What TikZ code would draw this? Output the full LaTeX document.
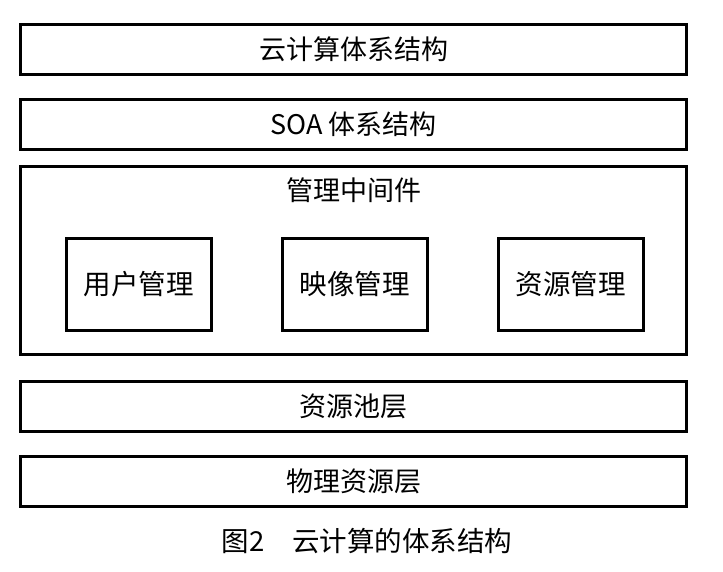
\documentclass[tikz,border=0pt]{standalone}
\usepackage{fontspec}
\setmainfont{Noto Sans CJK SC}
\tikzset{
  layer/.style = {rectangle, draw, line width=3pt, minimum width=666pt, minimum height=50pt,
                  inner sep=0pt, font=\fontsize{27}{30}\selectfont},
  frame/.style = {rectangle, draw, line width=3pt, minimum width=666pt, minimum height=188pt,
                  inner sep=0pt},
  module/.style = {rectangle, draw, line width=3pt, minimum width=145pt, minimum height=92pt,
                   inner sep=0pt, font=\fontsize{27.5}{30}\selectfont},
  title/.style = {font=\fontsize{27}{30}\selectfont},
  caption/.style = {font=\fontsize{27.5}{30}\selectfont},
}

\begin{document}
\begin{tikzpicture}[x=1pt, y=1pt]
  \useasboundingbox (0,0) rectangle (723,-571);
  % x-position of the layer centres
  \def\colL{353.5}
  \def\colA{138.5}
  \def\colB{354.5}
  \def\colC{570.5}

  % --- Layers ---
  \node[layer] at (\colL, -49.5)  (L1) {云计算体系结构};
  \node[layer] at (\colL, -124.5) (L2) {SOA 体系结构};
  \node[frame] at (\colL, -260.5) (L3) {};
  \node[layer] at (\colL, -406)   (L4) {资源池层};
  \node[layer] at (\colL, -481)   (L5) {物理资源层};

  % --- Middleware ---
  \node[title] at (\colL, -190) (T3) {管理中间件};
  \node[module] at (\colA, -284) (M1) {用户管理};
  \node[module] at (\colB, -284) (M2) {映像管理};
  \node[module] at (\colC, -284) (M3) {资源管理};

  % Caption
  \node[caption] at (367, -541) (cap) {图2　云计算的体系结构};
\end{tikzpicture}
\end{document}
